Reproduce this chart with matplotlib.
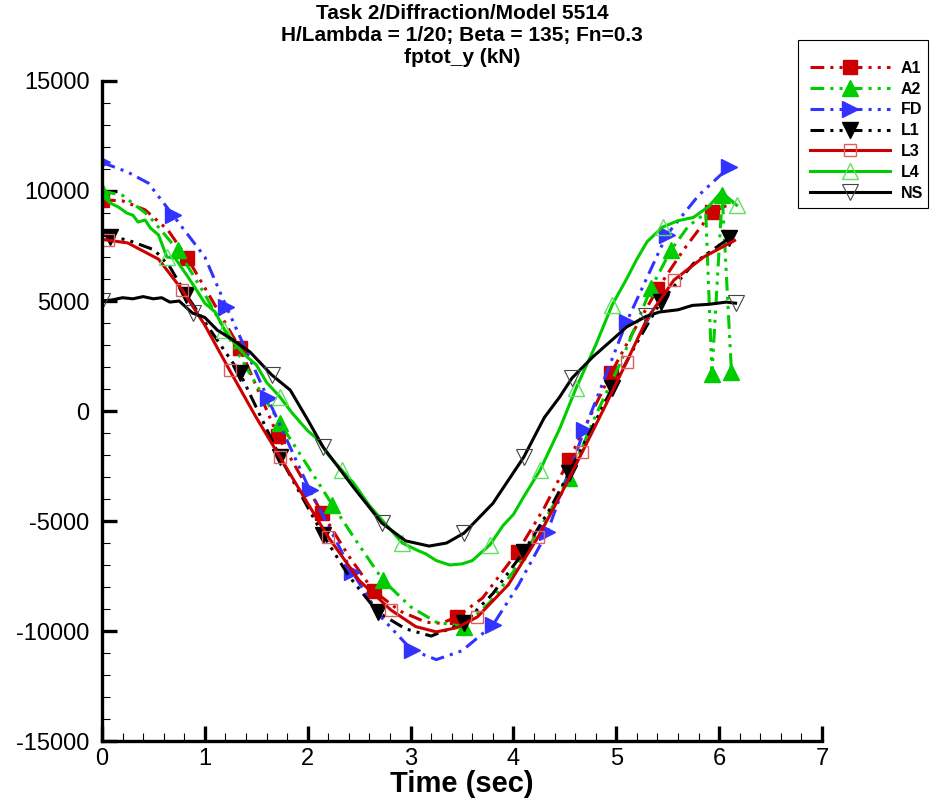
import numpy as np
import matplotlib
matplotlib.use("Agg")
import matplotlib.pyplot as plt
from matplotlib.lines import Line2D
from matplotlib.patches import Rectangle
from matplotlib.ticker import MultipleLocator

plt.rcParams['font.family'] = ['Liberation Sans', 'DejaVu Sans']
plt.rcParams['axes.unicode_minus'] = False

# ---- data ----
a1_t = [0.0, 0.2, 0.42, 0.64, 0.83, 1.03, 1.34, 1.71, 2.14, 2.4, 2.64, 2.9, 3.15, 3.3, 3.45, 3.7, 4.04, 4.3, 4.54, 4.75, 4.95, 5.2, 5.4, 5.65, 5.93, 6.15]
a1_y = [9600, 9550, 9140, 8230, 6950, 5360, 2860, -1140, -4640, -6600, -8180, -9100, -9600, -9650, -9360, -8500, -6400, -4400, -2230, -200, 1730, 3900, 5540, 7300, 9040, 9500]
a1_mt = [0.0, 0.83, 1.34, 1.71, 2.14, 2.64, 3.45, 4.04, 4.54, 4.95, 5.4, 5.93]
a1_my = [9600, 6950, 2860, -1140, -4640, -8180, -9360, -6400, -2230, 1730, 5540, 9040]

a2_t = [0.0, 0.2, 0.45, 0.74, 1.0, 1.25, 1.5, 1.73, 2.0, 2.24, 2.5, 2.73, 3.0, 3.25, 3.52, 3.77, 4.0, 4.3, 4.54, 4.8, 5.05, 5.34, 5.53, 5.7, 5.87, 5.93, 6.03, 6.12]
a2_y = [10000, 9800, 8900, 7300, 5300, 3200, 1200, -550, -2500, -4270, -6100, -7680, -8900, -9600, -9800, -8700, -7300, -5000, -3050, -200, 2300, 5600, 7300, 8400, 9000, 1700, 9800, 1750]
a2_mt = [0.0, 0.74, 1.73, 2.24, 2.73, 3.52, 4.54, 5.34, 5.53, 5.93, 6.03, 6.12]
a2_my = [10000, 7300, -550, -4270, -7680, -9800, -3050, 5600, 7300, 1700, 9800, 1750]

fd_t = [0.0, 0.25, 0.45, 0.69, 1.0, 1.21, 1.61, 2.02, 2.43, 2.7, 3.01, 3.25, 3.5, 3.8, 4.05, 4.33, 4.69, 5.1, 5.49, 5.8, 6.1]
fd_y = [11300, 10860, 10360, 8900, 7000, 4730, 590, -3590, -7300, -9300, -10860, -11300, -10900, -9730, -7900, -5500, -860, 4050, 8000, 9800, 11100]
fd_mt = [0.0, 0.69, 1.21, 1.61, 2.02, 2.43, 3.01, 3.8, 4.33, 4.69, 5.1, 5.49, 6.1]
fd_my = [11300, 8900, 4730, 590, -3590, -7300, -10860, -9730, -5500, -860, 4050, 8000, 11100]

l1_t = [0.0, 0.25, 0.51, 0.66, 0.82, 1.05, 1.34, 1.73, 2.15, 2.4, 2.68, 2.95, 3.2, 3.52, 3.8, 4.1, 4.35, 4.54, 4.75, 4.96, 5.2, 5.43, 5.75, 6.1]
l1_y = [8000, 7770, 7320, 6550, 5270, 3700, 1730, -2090, -5640, -7500, -9140, -9900, -10230, -9640, -8300, -6400, -4500, -2820, -900, 1040, 3100, 4950, 6700, 7860]
l1_mt = [0.08, 0.82, 1.34, 1.73, 2.15, 2.68, 3.52, 4.1, 4.54, 4.96, 5.43, 6.1]
l1_my = [7900, 5270, 1730, -2090, -5640, -9140, -9640, -6400, -2820, 1040, 4950, 7860]

l3_t = [0.0, 0.25, 0.55, 0.78, 1.0, 1.24, 1.5, 1.73, 2.0, 2.2, 2.5, 2.81, 3.05, 3.25, 3.45, 3.65, 3.95, 4.24, 4.45, 4.67, 4.9, 5.1, 5.3, 5.56, 5.85, 6.15]
l3_y = [7800, 7640, 6900, 5500, 3900, 1860, -300, -2090, -4200, -5730, -7700, -9050, -9800, -10040, -9850, -9360, -7900, -5730, -3900, -1860, 300, 2230, 4200, 5950, 7000, 7750]
l3_mt = [0.06, 0.78, 1.24, 1.73, 2.2, 2.81, 3.65, 4.24, 4.67, 5.1, 5.56]
l3_my = [7770, 5500, 1860, -2090, -5730, -9050, -9360, -5730, -1860, 2230, 5950]

l4_t = [0.0, 0.08, 0.16, 0.24, 0.3, 0.35, 0.42, 0.47, 0.55, 0.63, 0.71, 0.81, 0.9, 1.0, 1.1, 1.19, 1.3, 1.4, 1.5, 1.6, 1.73, 1.85, 2.0, 2.1, 2.2, 2.33,
        2.45, 2.6, 2.75, 2.92, 3.05, 3.15, 3.25, 3.38, 3.5, 3.6, 3.77, 3.9, 4.0, 4.1, 4.26, 4.45, 4.61, 4.8, 4.96, 5.1, 5.2, 5.3, 5.45, 5.6, 5.75, 5.9, 6.02, 6.17]
l4_y = [9820, 9450, 9270, 9000, 8900, 8590, 8680, 8320, 8000, 7000, 6950, 6270, 5640, 4900, 4500, 3700, 3000, 2500, 2100, 1300, 640, -100, -900, -1300, -2000, -2680,
        -3300, -4300, -5100, -6000, -6300, -6500, -6800, -7000, -6950, -6800, -6090, -5200, -4700, -3900, -2680, -800, 1050, 3000, 4820, 6000, 6900, 7700, 8360, 8650, 8800, 9300, 9950, 9360]
l4_mt = [0.63, 1.19, 1.73, 2.33, 2.92, 3.77, 4.26, 4.61, 4.96, 5.45, 6.17]
l4_my = [7000, 3700, 640, -2680, -6000, -6090, -2680, 1050, 4820, 8360, 9360]

ns_t = [0.0, 0.1, 0.2, 0.3, 0.4, 0.5, 0.58, 0.66, 0.75, 0.88, 1.0, 1.12, 1.25, 1.44, 1.65, 1.83, 2.0, 2.15, 2.45, 2.72, 2.95, 3.18, 3.35, 3.52, 3.8, 4.1, 4.3, 4.45,
        4.57, 4.77, 5.0, 5.1, 5.29, 5.42, 5.6, 5.74, 5.9, 6.07, 6.16]
ns_y = [5000, 5050, 5150, 5100, 5200, 5100, 5150, 4950, 5000, 4450, 4250, 3680, 3300, 2680, 1640, 950, -400, -1640, -3500, -5090, -5900, -6140, -6000, -5550, -4200, -2100, -300, 640,
        1500, 2450, 3400, 3820, 4300, 4500, 4600, 4800, 4850, 4950, 4900]
ns_mt = [0.0, 0.88, 1.65, 2.15, 2.72, 3.52, 4.1, 4.57, 5.29, 6.16]
ns_my = [5000, 4450, 1640, -1640, -5090, -5550, -2100, 1500, 4300, 4900]

labels = ['A1', 'A2', 'FD', 'L1', 'L3', 'L4', 'NS']

# ---- styles ----
dashdotdot = (0, (4.5, 2, 1, 2, 1, 2))
red, green, blue = '#cc0000', '#00cc00', '#3333ff'
series = [
    (a1_t, a1_y, a1_mt, a1_my, dict(color=red, ls=dashdotdot), dict(marker='s', mfc=red, mec=red, ms=10)),
    (a2_t, a2_y, a2_mt, a2_my, dict(color=green, ls=dashdotdot), dict(marker='^', mfc=green, mec=green, ms=11)),
    (fd_t, fd_y, fd_mt, fd_my, dict(color=blue, ls=dashdotdot), dict(marker='>', mfc=blue, mec=blue, ms=11)),
    (l1_t, l1_y, l1_mt, l1_my, dict(color='black', ls=dashdotdot), dict(marker='v', mfc='black', mec='black', ms=11)),
    (l3_t, l3_y, l3_mt, l3_my, dict(color=red, ls='-'), dict(marker='s', mfc='none', mec='#e06060', ms=9, mew=1)),
    (l4_t, l4_y, l4_mt, l4_my, dict(color=green, ls='-'), dict(marker='^', mfc='none', mec='#60e060', ms=11, mew=1)),
    (ns_t, ns_y, ns_mt, ns_my, dict(color='black', ls='-'), dict(marker='v', mfc='none', mec='#444444', ms=11, mew=0.8)),
]

fig = plt.figure(figsize=(9.3, 8.05), dpi=100)
ax = fig.add_axes([102/930, 1 - 741/805, 720/930, 660/805])

handles = []
for t, y, mt, my, lsty, msty in series:
    ax.plot(t, y, lw=2.2, **lsty)
    ax.plot(mt, my, ls='none', **msty)
    handles.append(Line2D([], [], lw=2.2, **lsty, **msty))

ax.set_xlim(0, 7)
ax.set_ylim(-15000, 15000)
ax.xaxis.set_major_locator(MultipleLocator(1))
ax.xaxis.set_minor_locator(MultipleLocator(0.2))
ax.yaxis.set_major_locator(MultipleLocator(5000))
ax.yaxis.set_minor_locator(MultipleLocator(1000))
for side in ('top', 'right'):
    ax.spines[side].set_visible(False)
for side in ('left', 'bottom'):
    ax.spines[side].set_linewidth(2.4)
ax.tick_params(which='major', direction='in', length=11, width=2.4, labelsize=17)
ax.tick_params(which='minor', direction='in', length=6, width=0.8)
ax.tick_params(axis='x', pad=5)
ax.tick_params(axis='y', pad=9)

ax.set_xlabel('Time (sec)', fontsize=21, fontweight='bold', labelpad=0)
fig.text(462/930, 1 - 4/805, 'Task 2/Diffraction/Model 5514\nH/Lambda = 1/20; Beta = 135; Fn=0.3\nfptot_y (kN)',
         ha='center', va='top', fontsize=15, fontweight='bold', linespacing=1.2)

# legend: frameless entries inside a separately drawn box
leg = fig.legend(handles, labels, loc='upper left', bbox_to_anchor=(810/930, 1 - 61/805),
                 bbox_transform=fig.transFigure, borderaxespad=0, borderpad=0, numpoints=1,
                 handlelength=5.0, handletextpad=0.7, labelspacing=0.36,
                 prop={'weight': 'bold', 'size': 11.5}, frameon=False)
fig.patches.append(Rectangle((798/930, 1 - 208/805), 130/930, 168/805, transform=fig.transFigure,
                             fill=False, edgecolor='black', linewidth=0.8))

fig.savefig('out.png', dpi=100)
